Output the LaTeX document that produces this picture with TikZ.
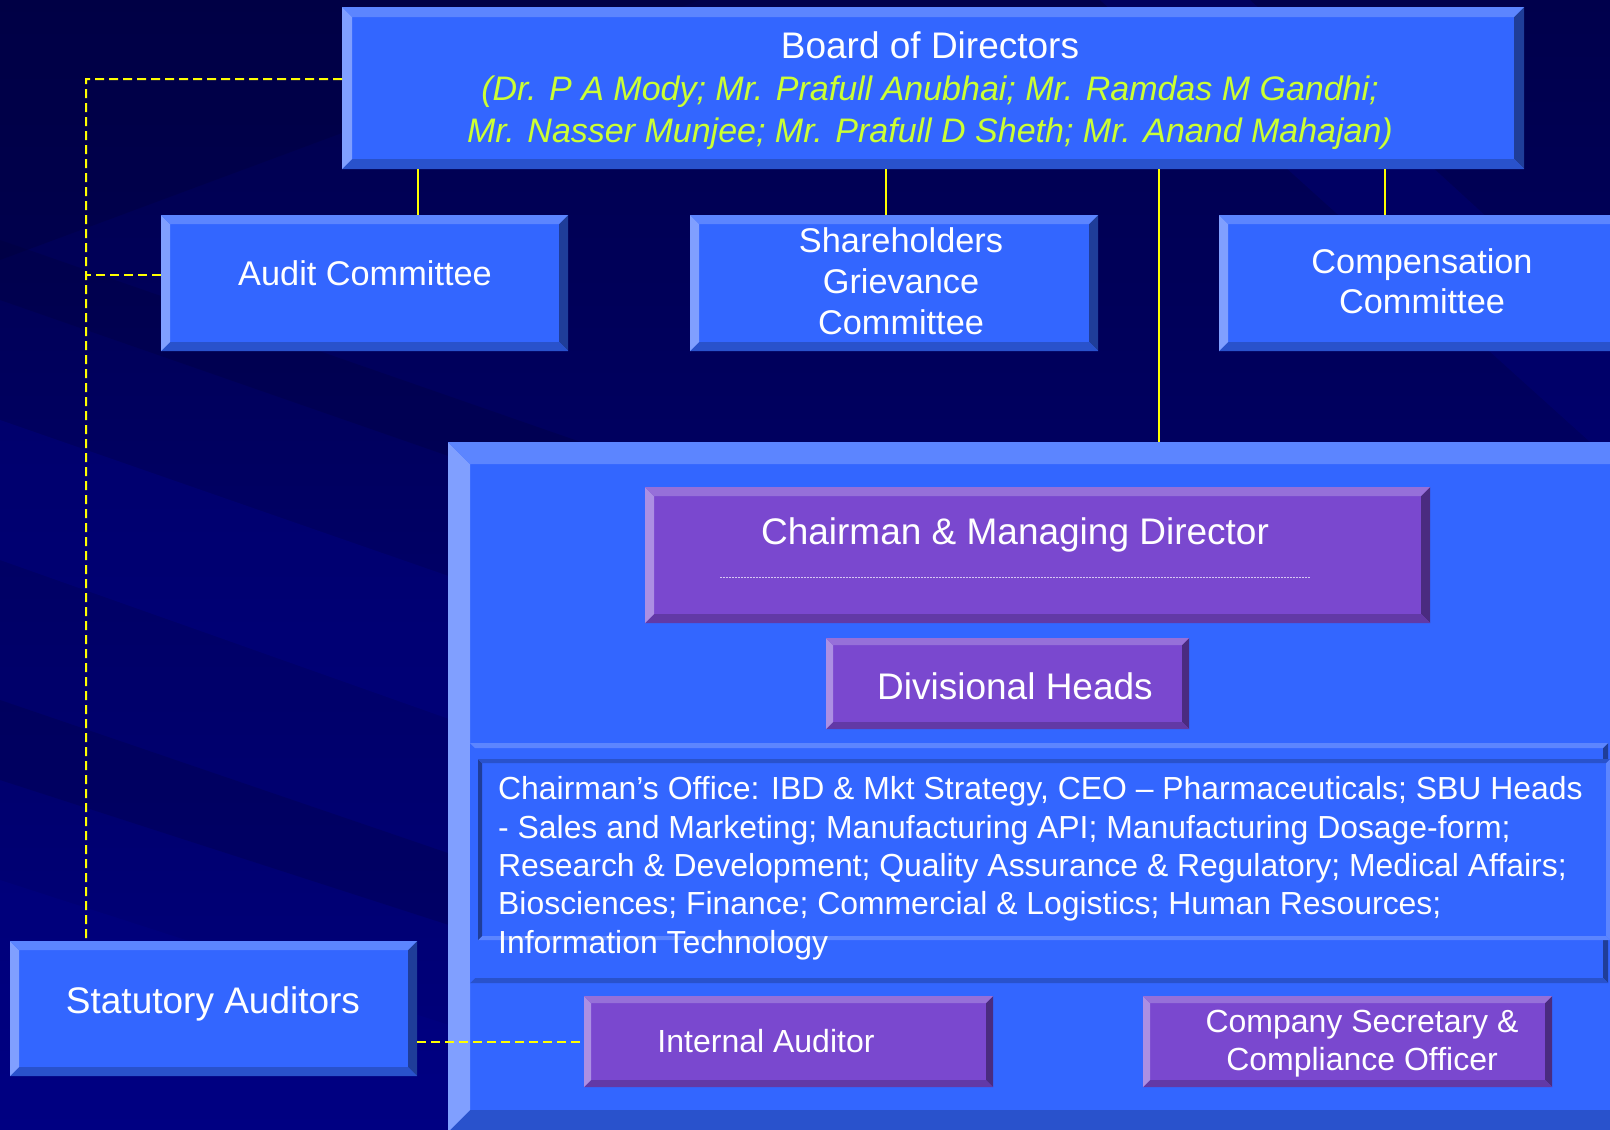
\documentclass[tikz,border=0pt]{standalone}
\usepackage{fontspec}
\setmainfont{Liberation Sans}
\usetikzlibrary{calc}
\definecolor{bfill}{HTML}{3366FF}
\definecolor{btop}{HTML}{5C85FF}
\definecolor{bleft}{HTML}{809FFF}
\definecolor{bbot}{HTML}{2952CC}
\definecolor{bright}{HTML}{1F3D99}
\definecolor{pfill}{HTML}{7A48CF}
\definecolor{ptop}{HTML}{9670D9}
\definecolor{pleft}{HTML}{AC8FE3}
\definecolor{pbot}{HTML}{6239A6}
\definecolor{pright}{HTML}{4A2B80}
\definecolor{yel}{HTML}{FFFF00}
\definecolor{ital}{HTML}{CCFF33}
\definecolor{bgtop}{HTML}{00004C}
\definecolor{bgbot}{HTML}{00007E}
\definecolor{bgl}{HTML}{000090}
\definecolor{bgd}{HTML}{00003A}
\newcommand\bevelpaint[5]{%
  \fill[#1] (path picture bounding box.north west) -- (path picture bounding box.south west)
     -- ([xshift=#5,yshift=#5]path picture bounding box.south west)
     -- ([xshift=#5,yshift=-#5]path picture bounding box.north west) -- cycle;
  \fill[#2] (path picture bounding box.north west) -- (path picture bounding box.north east)
     -- ([xshift=-#5,yshift=-#5]path picture bounding box.north east)
     -- ([xshift=#5,yshift=-#5]path picture bounding box.north west) -- cycle;
  \fill[#3] (path picture bounding box.north east) -- (path picture bounding box.south east)
     -- ([xshift=-#5,yshift=#5]path picture bounding box.south east)
     -- ([xshift=-#5,yshift=-#5]path picture bounding box.north east) -- cycle;
  \fill[#4] (path picture bounding box.south west) -- (path picture bounding box.south east)
     -- ([xshift=-#5,yshift=#5]path picture bounding box.south east)
     -- ([xshift=#5,yshift=#5]path picture bounding box.south west) -- cycle;
}
\tikzset{
  bluebox/.style={rectangle, inner sep=0pt, fill=bfill, anchor=north west,
    path picture={\bevelpaint{bleft}{btop}{bright}{bbot}{#1}}},
  bluebox/.default=9pt,
  purplebox/.style={rectangle, inner sep=0pt, fill=pfill, anchor=north west,
    path picture={\bevelpaint{pleft}{ptop}{pright}{pbot}{#1}}},
  purplebox/.default=8pt,
  panelbox/.style={rectangle, inner sep=0pt, fill=bfill, anchor=north west,
    path picture={\bevelpaint{bfill}{btop}{bright}{bbot}{#1}}},
  sunkbox/.style={rectangle, inner sep=0pt, fill=bfill, anchor=north west,
    path picture={\bevelpaint{bright}{bbot}{btop}{btop}{#1}}},
  conn/.style={draw=yel, line width=2pt},
  dconn/.style={draw=yel, line width=2pt, dash pattern=on 9pt off 5pt},
  lbl/.style={text=white, inner sep=0pt, align=center, anchor=base},
  fbig/.style={font=\fontsize{37}{42}\selectfont},
  fmid/.style={font=\fontsize{34.3}{41}\selectfont},
  fsmall/.style={font=\fontsize{32}{38}\selectfont},
}
\begin{document}
\begin{tikzpicture}[x=1pt,y=-1pt]
\useasboundingbox (0,0) rectangle (1610,1130);
% background
\shade[top color=bgtop, bottom color=bgbot] (0,0) rectangle (1610,1130);
\begin{scope}
\clip (0,0) rectangle (1610,1130);
\fill[bgd, opacity=0.35] (0,0) -- (700,0) -- (0,260) -- cycle;
\fill[bgl, opacity=0.30] (0,420) -- (1610,980) -- (1610,1130) -- (0,560) -- cycle;
\fill[bgd, opacity=0.30] (0,240) -- (1610,800) -- (1610,860) -- (0,300) -- cycle;
\fill[bgl, opacity=0.25] (0,880) -- (1610,1400) -- (0,1400) -- cycle;
\fill[bgl, opacity=0.25] (1100,0) -- (1250,0) -- (1610,330) -- (1610,460) -- cycle;
\fill[bgd, opacity=0.25] (0,700) -- (1610,1250) -- (1610,1300) -- (0,780) -- cycle;
\end{scope}

% board and committees
\node[bluebox=10pt, minimum width=1182pt, minimum height=162pt] (board) at (342,7) {};
\node[lbl, fbig] (boardT) at (930,58.5) {Board of Directors};
\node[lbl, font=\fontsize{34}{42}\selectfont\itshape, text=ital] (boardM) at (930,142.7)
  {(Dr. P A Mody; Mr. Prafull Anubhai; Mr. Ramdas M Gandhi;\\Mr. Nasser Munjee; Mr. Prafull D Sheth; Mr. Anand Mahajan)};

\node[bluebox, minimum width=407pt, minimum height=136pt] (audit) at (161,215) {};
\node[lbl, fmid] (auditT) at (365,285) {Audit Committee};
\node[bluebox, minimum width=408pt, minimum height=136pt] (share) at (690,215) {};
\node[lbl, fmid] (shareT) at (901,334) {Shareholders\\Grievance\\Committee};
\node[bluebox, minimum width=401pt, minimum height=136pt] (comp) at (1219,215) {};
\node[lbl, font=\fontsize{34.3}{40}\selectfont] (compT) at (1422,313) {Compensation\\Committee};

% big container
\node[bluebox=22pt, minimum width=1200pt, minimum height=690pt] (cont) at (448,442) {};
\node[purplebox=9pt, minimum width=785pt, minimum height=136pt] (cmd) at (645,487) {};
\node[lbl, fbig] (cmdT) at (1015,544) {Chairman \& Managing Director};
\draw[color=white!70!pfill, line width=1pt, dash pattern=on 2pt off 1pt] (720,577) -- (1310,577);
\node[purplebox=7pt, minimum width=363pt, minimum height=91pt] (div) at (826,638) {};
\node[lbl, fbig] (divT) at (1015,699) {Divisional Heads};

\node[panelbox=5pt, minimum width=1138pt, minimum height=240pt] (panel) at (470,743) {};
\node[sunkbox=4pt, minimum width=1132pt, minimum height=181pt] (office) at (478,759) {};
\node[lbl, anchor=base west, align=left, font=\fontsize{31.9}{38.3}\selectfont] (officeT) at (498,953)
  {Chairman’s Office: IBD \& Mkt Strategy, CEO – Pharmaceuticals; SBU Heads\\
   - Sales and Marketing; Manufacturing API; Manufacturing Dosage-form;\\
   Research \& Development; Quality Assurance \& Regulatory; Medical Affairs;\\
   Biosciences; Finance; Commercial \& Logistics; Human Resources;\\
   Information Technology};

\node[purplebox=7pt, minimum width=409pt, minimum height=91pt] (ia) at (584,996) {};
\node[lbl, fsmall] (iaT) at (766,1052) {Internal Auditor};
\node[purplebox=7pt, minimum width=409pt, minimum height=91pt] (cs) at (1143,996) {};
\node[lbl, fsmall] (csT) at (1362,1070) {Company Secretary \&\\Compliance Officer};

\node[bluebox, minimum width=407pt, minimum height=135pt] (stat) at (10,941) {};
\node[lbl, fbig] (statT) at (213,1013) {Statutory Auditors};

% connectors
\draw[conn] ([xshift=53.5pt]audit.north) -- ([xshift=53.5pt]audit.north |- board.south);
\draw[conn] ([xshift=-8pt]share.north) -- ([xshift=-8pt]share.north |- board.south);
\draw[conn] ([xshift=-34.5pt]comp.north) -- ([xshift=-34.5pt]comp.north |- board.south);
\draw[conn] ([xshift=226pt]board.south) -- ([xshift=226pt]board.south |- cont.north);
\coordinate (dtop) at (86,79);
\coordinate (bw) at ([yshift=9pt]board.west);
\coordinate (aw) at ([yshift=8pt]audit.west);
\draw[dconn] (bw) -- (dtop) -- (dtop |- stat.north);
\draw[dconn] (aw) -- (aw -| dtop);
\draw[dconn] (stat.east |- ia.west) -- (ia.west);
\end{tikzpicture}
\end{document}
